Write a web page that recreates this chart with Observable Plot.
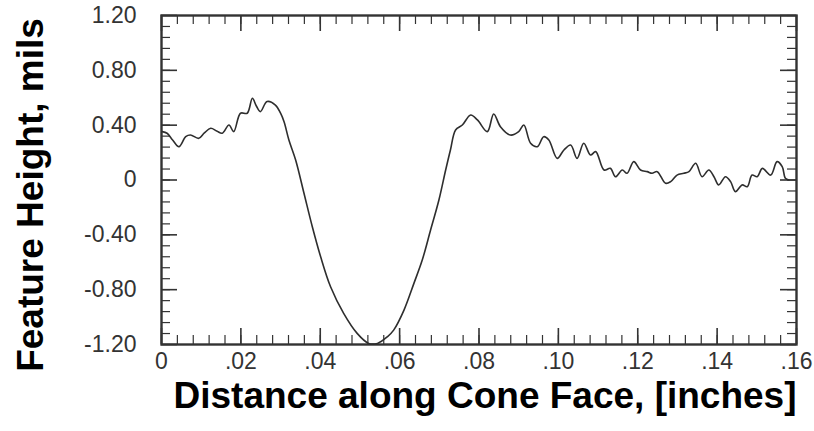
<!DOCTYPE html>
<html>
<head>
<meta charset="utf-8">
<script src="https://cdn.jsdelivr.net/npm/d3@7"></script>
<script src="https://cdn.jsdelivr.net/npm/@observablehq/plot@0.6"></script>
<style>
  body { margin: 0; background: #fff; }
  #chart svg { overflow: hidden; }
</style>
</head>
<body>
<div id="chart"></div>
<script>
// Distance along cone face (inches)
const distance = [
  0.0002, 0.0014, 0.0028, 0.0044, 0.0061, 0.0073, 0.0094, 0.0108, 0.0124, 0.0139,
  0.0153, 0.0170, 0.0182, 0.0199, 0.0216, 0.0229, 0.0239, 0.0249, 0.0266, 0.0287,
  0.0300, 0.0309, 0.0321, 0.0338, 0.0359, 0.0380, 0.0401, 0.0426, 0.0459, 0.0493,
  0.0522, 0.0544, 0.0569, 0.0585, 0.0611, 0.0636, 0.0657, 0.0678, 0.0699, 0.0716,
  0.0728, 0.0741, 0.0758, 0.0779, 0.0796, 0.0821, 0.0837, 0.0854, 0.0879, 0.0900,
  0.0913, 0.0930, 0.0947, 0.0963, 0.0976, 0.0997, 0.1014, 0.1031, 0.1047, 0.1064,
  0.1081, 0.1094, 0.1115, 0.1131, 0.1144, 0.1161, 0.1173, 0.1190, 0.1207, 0.1224,
  0.1236, 0.1249, 0.1270, 0.1283, 0.1299, 0.1316, 0.1329, 0.1346, 0.1362, 0.1379,
  0.1392, 0.1404, 0.1421, 0.1434, 0.1446, 0.1463, 0.1476, 0.1488, 0.1501, 0.1514,
  0.1535, 0.1551, 0.1564, 0.1572, 0.1581
];
// Feature height (mils)
const featureHeight = [
  0.353, 0.341, 0.292, 0.243, 0.316, 0.328, 0.304, 0.343, 0.377, 0.358,
  0.341, 0.401, 0.353, 0.487, 0.487, 0.596, 0.540, 0.499, 0.572, 0.547,
  0.487, 0.423, 0.292, 0.146, -0.097, -0.341, -0.560, -0.779, -0.973, -1.119,
  -1.192, -1.192, -1.144, -1.095, -0.949, -0.754, -0.584, -0.365, -0.146, 0.073,
  0.219, 0.365, 0.401, 0.474, 0.438, 0.353, 0.482, 0.389, 0.328, 0.353,
  0.401, 0.268, 0.243, 0.316, 0.292, 0.158, 0.219, 0.255, 0.158, 0.268,
  0.182, 0.207, 0.073, 0.085, 0.024, 0.073, 0.049, 0.134, 0.073, 0.061,
  0.049, 0.061, -0.024, -0.012, 0.036, 0.049, 0.061, 0.122, 0.024, 0.073,
  0.024, -0.036, 0.024, -0.012, -0.085, -0.036, -0.049, 0.036, 0.024, 0.085,
  0.036, 0.134, 0.097, 0.012, 0.000
];

const xTicks = [0, 0.02, 0.04, 0.06, 0.08, 0.10, 0.12, 0.14, 0.16];
const xTickLabels = ["0", ".02", ".04", ".06", ".08", ".10", ".12", ".14", ".16"];
const yTicks = [-1.2, -0.8, -0.4, 0, 0.4, 0.8, 1.2];
const yTickLabels = ["-1.20", "-0.80", "-0.40", "0", "0.40", "0.80", "1.20"];
const xMinorTicks = d3.range(0, 41).map(i => i * 0.004);
const yMinorTicks = d3.range(0, 31).map(i => -1.2 + i * 0.08);

const xTitle = "Distance along Cone Face, [inches]";
const yTitle = "Feature Height, mils";

const W = 814, H = 431;
const mTop = 15, mBottom = 87, mLeft = 161, mRight = 18;
const plotH = H - mTop - mBottom;
const plotW = W - mLeft - mRight;
const majorLen = 16, minorLen = 9;
const ink = "#333";

const data = distance.map((d, i) => ({x: d, y: featureHeight[i]}));

const chart = Plot.plot({
  width: W,
  height: H,
  marginTop: mTop,
  marginBottom: mBottom,
  marginLeft: mLeft,
  marginRight: mRight,
  style: {fontFamily: "Liberation Sans, Arial, sans-serif", fontSize: "23px", color: ink, background: "#fff"},
  x: {domain: [0, 0.16]},
  y: {domain: [-1.2, 1.2]},
  marks: [
    // minor ticks (all four sides, inward)
    Plot.ruleX(xMinorTicks, {x: d => d, insetTop: plotH - minorLen, stroke: ink, strokeWidth: 1.2}),
    Plot.ruleX(xMinorTicks, {x: d => d, insetBottom: plotH - minorLen, stroke: ink, strokeWidth: 1.2}),
    Plot.ruleY(yMinorTicks, {y: d => d, insetRight: plotW - minorLen, stroke: ink, strokeWidth: 1.2}),
    Plot.ruleY(yMinorTicks, {y: d => d, insetLeft: plotW - minorLen, stroke: ink, strokeWidth: 1.2}),
    // major ticks
    Plot.ruleX(xTicks, {x: d => d, insetTop: plotH - majorLen, stroke: ink, strokeWidth: 1.6}),
    Plot.ruleX(xTicks, {x: d => d, insetBottom: plotH - majorLen, stroke: ink, strokeWidth: 1.6}),
    Plot.ruleY(yTicks, {y: d => d, insetRight: plotW - majorLen, stroke: ink, strokeWidth: 1.6}),
    Plot.ruleY(yTicks, {y: d => d, insetLeft: plotW - majorLen, stroke: ink, strokeWidth: 1.6}),
    Plot.frame({stroke: ink, strokeWidth: 2.4}),
    Plot.axisX(xTicks, {
      anchor: "bottom", tickSize: 0, tickPadding: 8, label: null,
      tickFormat: d => xTickLabels[xTicks.indexOf(d)], fill: ink, fontSize: 23
    }),
    Plot.axisY(yTicks, {
      anchor: "left", tickSize: 0, tickPadding: 25, label: null,
      tickFormat: d => yTickLabels[yTicks.indexOf(d)], fill: ink, fontSize: 23
    }),
    Plot.line(data, {x: "x", y: "y", stroke: "#2e2e2e", strokeWidth: 1.6, curve: "catmull-rom"}),
    Plot.text([xTitle], {
      text: d => d, frameAnchor: "bottom", textAnchor: "middle", lineAnchor: "middle",
      dx: 6, dy: 52, fontSize: 37, fontWeight: "bold", fill: "#000"
    }),
    Plot.text([yTitle], {
      text: d => d, frameAnchor: "left", rotate: -90, textAnchor: "middle", lineAnchor: "middle",
      dx: -130, dy: 15, fontSize: 37, fontWeight: "bold", fill: "#000"
    })
  ]
});
document.getElementById("chart").appendChild(chart);
</script>
</body>
</html>
